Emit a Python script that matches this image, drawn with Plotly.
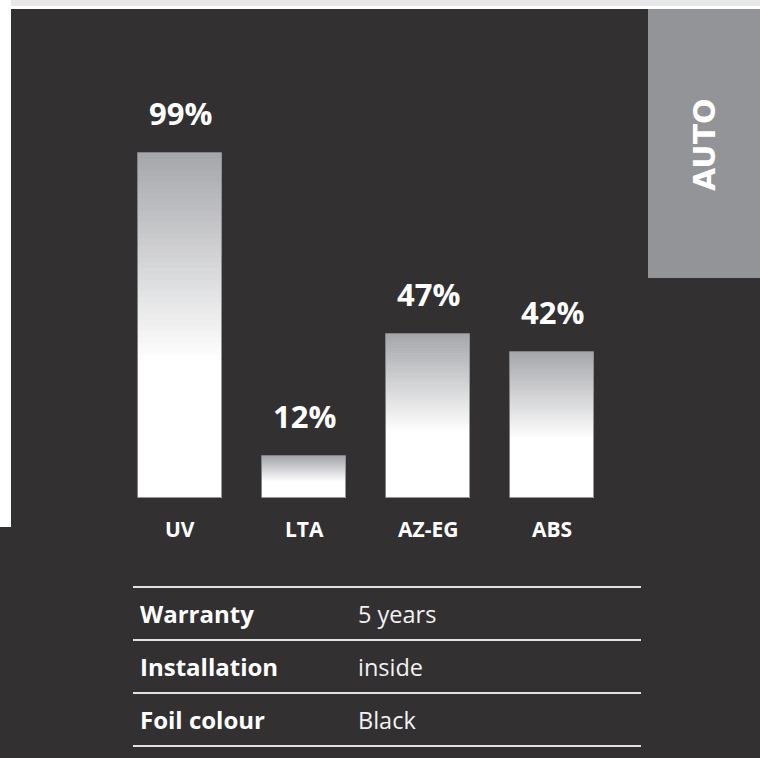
import plotly.graph_objects as go

# ---------------- data ----------------
categories = ["UV", "LTA", "AZ-EG", "ABS"]
values = [99, 12, 47, 42]
value_labels = ["99%", "12%", "47%", "42%"]
table_keys = ["Warranty", "Installation", "Foil colour"]
table_vals = ["5 years", "inside", "Black"]
side_label = "AUTO"

# ---------------- layout helpers ----------------
W, H = 760, 758
BG = "#323031"
FONT = "Open Sans"


def px(x):
    return x / W


def py(y):
    return 1 - y / H


# y axis: value 0 at pixel 498, value 99 at pixel 153
unit = (498 - 153) / 99.0
y_top = 498 / unit
y_bot = -(H - 498) / unit
# x axis: category centres at 180 + 124*i
x_lo = -180 / 124.0
x_hi = (W - 180) / 124.0
bar_w = 84 / 124.0

fig = go.Figure()

N = 60
grey = (165, 166, 170)
white = (255, 255, 255)
for k in range(N):
    t = 1 - (k + 0.5) / N  # 0 = top of bar, 1 = bottom
    f = min(1.0, t / 0.6)
    c = tuple(round(g + (w - g) * f) for g, w in zip(grey, white))
    fig.add_trace(go.Bar(
        x=categories,
        y=[v / N for v in values],
        base=[v * k / N for v in values],
        width=bar_w,
        marker=dict(color="rgb(%d,%d,%d)" % c, line=dict(width=0)),
        hoverinfo="skip",
        showlegend=False,
    ))

# thin outline
fig.add_trace(go.Bar(
    x=categories, y=values, width=bar_w,
    marker=dict(color="rgba(0,0,0,0)", line=dict(color="rgba(140,141,145,0.9)", width=1)),
    hoverinfo="skip", showlegend=False,
))

annotations = []
for cat, v, lab in zip(categories, values, value_labels):
    annotations.append(dict(
        x=cat, y=v, xref="x", yref="y", text="<b>%s</b>" % lab,
        showarrow=False, yshift=40, yanchor="middle",
        font=dict(family=FONT, size=31, color="white"),
    ))
    annotations.append(dict(
        x=cat, y=0, xref="x", yref="y", text="<b>%s</b>" % cat,
        showarrow=False, yshift=-31, yanchor="middle",
        font=dict(family=FONT, size=21, color="white"),
    ))

# side label
annotations.append(dict(
    x=px(705), y=py(145), xref="paper", yref="paper",
    text="<b>%s</b>" % side_label, textangle=-90, showarrow=False,
    xanchor="center", yanchor="middle",
    font=dict(family="DejaVu Sans", size=30, color="white"),
))

# table
row_h = 53
line0 = 587
for i, (k, v) in enumerate(zip(table_keys, table_vals)):
    yc = line0 + row_h * (i + 0.5)
    annotations.append(dict(
        x=px(138), y=py(yc), xref="paper", yref="paper", text="<b>%s</b>" % k,
        showarrow=False, xanchor="left", yanchor="middle",
        font=dict(family=FONT, size=24, color="white"),
    ))
    annotations.append(dict(
        x=px(356), y=py(yc), xref="paper", yref="paper", text=v,
        showarrow=False, xanchor="left", yanchor="middle",
        font=dict(family=FONT, size=23.5, color="#f2f2f2"),
    ))

shapes = [
    # top band
    dict(type="rect", xref="paper", yref="paper", x0=0, x1=1, y0=py(6), y1=1,
         fillcolor="#e8e8e8", line=dict(width=0), layer="below"),
    dict(type="rect", xref="paper", yref="paper", x0=0, x1=1, y0=py(9), y1=py(6),
         fillcolor="#ffffff", line=dict(width=0), layer="below"),
    # left strip
    dict(type="rect", xref="paper", yref="paper", x0=0, x1=px(11), y0=py(527), y1=1,
         fillcolor="#ffffff", line=dict(width=0), layer="below"),
    # grey side box
    dict(type="rect", xref="paper", yref="paper", x0=px(648), x1=1, y0=py(278), y1=py(9),
         fillcolor="#939497", line=dict(width=0), layer="below"),
]
for i in range(len(table_keys) + 1):
    yl = line0 + row_h * i
    shapes.append(dict(type="line", xref="paper", yref="paper",
                       x0=px(133), x1=px(641), y0=py(yl), y1=py(yl),
                       line=dict(color="#e2e2e2", width=2)))

fig.update_layout(
    width=W, height=H,
    margin=dict(l=0, r=0, t=0, b=0),
    paper_bgcolor=BG, plot_bgcolor=BG,
    barmode="overlay", bargap=0,
    showlegend=False,
    xaxis=dict(range=[x_lo, x_hi], visible=False, fixedrange=True),
    yaxis=dict(range=[y_bot, y_top], visible=False, fixedrange=True),
    annotations=annotations,
    shapes=shapes,
    font=dict(family=FONT),
)

fig.write_html(
    "out.html",
    config={"displayModeBar": False},
    post_script="document.body.style.margin='0';document.body.style.padding='0';",
)
